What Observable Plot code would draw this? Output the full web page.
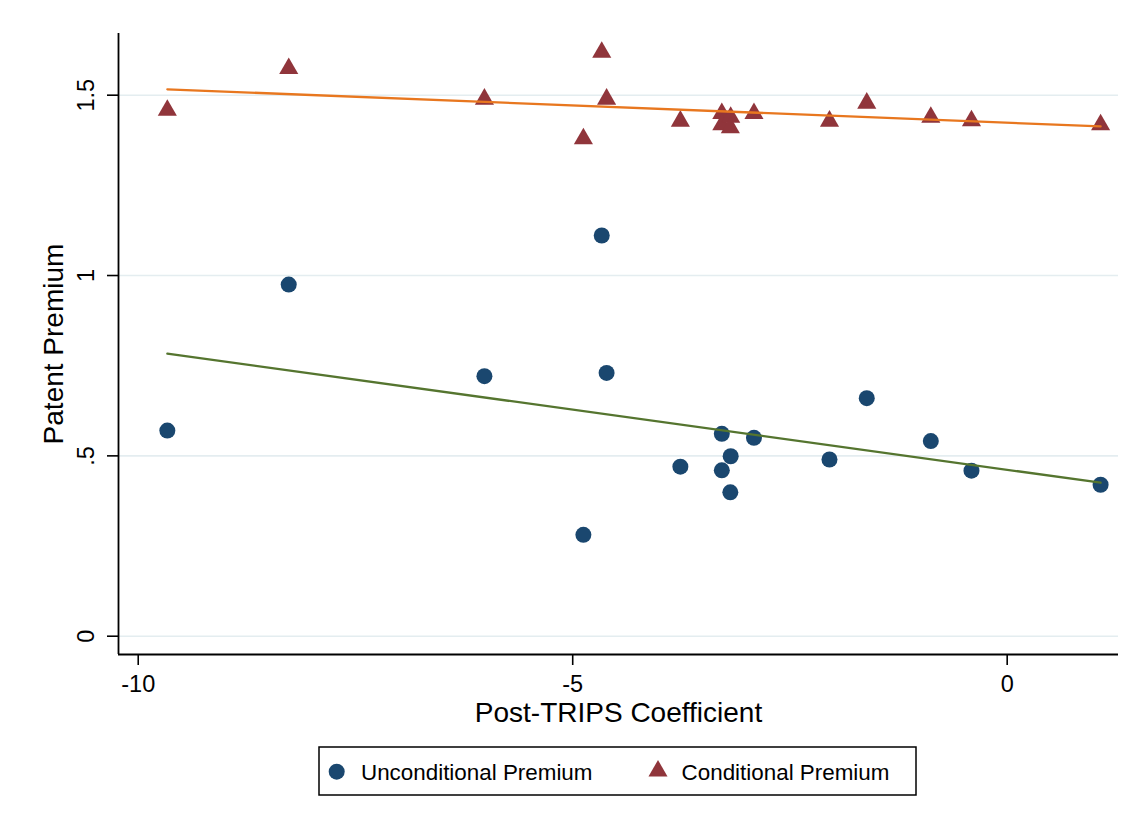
<!DOCTYPE html>
<html>
<head>
<meta charset="utf-8">
<script src="https://cdn.jsdelivr.net/npm/d3@7"></script>
<script src="https://cdn.jsdelivr.net/npm/@observablehq/plot@0.6"></script>
<style>
  body { margin: 0; background: #fff; font-family: "Liberation Sans", Arial, Helvetica, sans-serif; }
  #wrap { position: relative; width: 1140px; height: 833px; background: #fff; }
  #wrap svg { display: block; }
</style>
</head>
<body>
<div id="wrap"></div>
<script>
// ---- data ----
const coefficient = [-9.665, -8.268, -6.016, -4.877, -4.666, -4.610, -3.761, -3.284, -3.284, -3.182, -3.186, -2.914, -2.045, -1.616, -0.879, -0.411, 1.075];
const unconditionalPremium = [0.570, 0.975, 0.721, 0.281, 1.111, 0.730, 0.470, 0.561, 0.460, 0.499, 0.399, 0.550, 0.490, 0.660, 0.541, 0.459, 0.420];
const conditionalPremium   = [1.458, 1.574, 1.489, 1.379, 1.619, 1.489, 1.428, 1.449, 1.418, 1.439, 1.410, 1.449, 1.428, 1.478, 1.439, 1.429, 1.418];
const seriesNames = ["Unconditional Premium", "Conditional Premium"];
const xTicks = [-10, -5, 0];
const xTickLabels = ["-10", "-5", "0"];
const yTicks = [0, 0.5, 1, 1.5];
const yTickLabels = ["0", ".5", "1", "1.5"];
const xTitle = "Post-TRIPS Coefficient";
const yTitle = "Patent Premium";

// ---- styles ----
const markerColors = ["#1a476f", "#90353b"];
const fitColors = ["#55752f", "#e8771f"];
const font = '"Liberation Sans", Arial, Helvetica, sans-serif';
const xDomain = [-10.227, 1.281];
const yDomain = [-0.0507, 1.671];

const rows = coefficient.map((x, i) => ({x, u: unconditionalPremium[i], c: conditionalPremium[i]}));

const chart = Plot.plot({
  width: 1140,
  height: 735,
  marginTop: 33,
  marginRight: 22,
  marginBottom: 81,
  marginLeft: 118,
  style: {fontFamily: font, background: "#fff", color: "#000", overflow: "visible"},
  x: {domain: xDomain},
  y: {domain: yDomain},
  marks: [
    Plot.gridY(yTicks, {stroke: "#e4edf0", strokeOpacity: 1, strokeWidth: 1.6}),
    Plot.axisX(xTicks, {
      tickSize: 11, tickPadding: 10, fontSize: 23.5, label: null, stroke: "#000", strokeWidth: 1.6,
      tickFormat: d => xTickLabels[xTicks.indexOf(d)]
    }),
    Plot.axisY(yTicks, {
      tickSize: 11, tickPadding: 14, tickRotate: -90, fontSize: 23.5, label: null, stroke: "#000", strokeWidth: 1.6,
      tickFormat: d => yTickLabels[yTicks.indexOf(d)]
    }),
    Plot.ruleX([xDomain[0]], {stroke: "#000", strokeWidth: 1.8}),
    Plot.ruleY([yDomain[0]], {stroke: "#000", strokeWidth: 1.8}),
    Plot.dot(rows, {x: "x", y: "u", r: 8, fill: markerColors[0], stroke: null, symbol: "circle"}),
    Plot.dot(rows, {x: "x", y: "c", r: 7.1, fill: markerColors[1], stroke: null, symbol: "triangle"}),
    Plot.linearRegressionY(rows, {x: "x", y: "u", stroke: fitColors[0], strokeWidth: 2.3, ci: 0}),
    Plot.linearRegressionY(rows, {x: "x", y: "c", stroke: fitColors[1], strokeWidth: 2.3, ci: 0}),
    Plot.text([yTitle], {text: d => d, frameAnchor: "left", rotate: -90, dx: -64.5, fontSize: 28, fill: "#000", textAnchor: "middle", lineAnchor: "middle"}),
    Plot.text([xTitle], {text: d => d, frameAnchor: "bottom", dy: 59, fontSize: 28, fill: "#000", textAnchor: "middle", lineAnchor: "middle"})
  ]
});

const wrap = document.getElementById("wrap");
wrap.appendChild(chart);

// ---- legend below the chart ----
const legend = d3.create("svg")
  .attr("width", 1140)
  .attr("height", 98)
  .style("font-family", font);
legend.append("rect")
  .attr("x", 319).attr("y", 12).attr("width", 597).attr("height", 48)
  .attr("fill", "#fff").attr("stroke", "#000").attr("stroke-width", 1.5);
const items = [
  {name: seriesNames[0], color: markerColors[0], symbol: d3.symbolCircle, size: Math.PI * 64, sx: 336.7, sy: 36.7, tx: 361},
  {name: seriesNames[1], color: markerColors[1], symbol: d3.symbolTriangle, size: Math.PI * 50, sx: 658, sy: 36, tx: 681.6}
];
for (const it of items) {
  legend.append("path")
    .attr("d", d3.symbol(it.symbol, it.size)())
    .attr("transform", `translate(${it.sx},${it.sy})`)
    .attr("fill", it.color);
  legend.append("text")
    .attr("x", it.tx).attr("y", 45)
    .attr("font-size", 22.4)
    .attr("fill", "#000")
    .text(it.name);
}
wrap.appendChild(legend.node());
</script>
</body>
</html>
